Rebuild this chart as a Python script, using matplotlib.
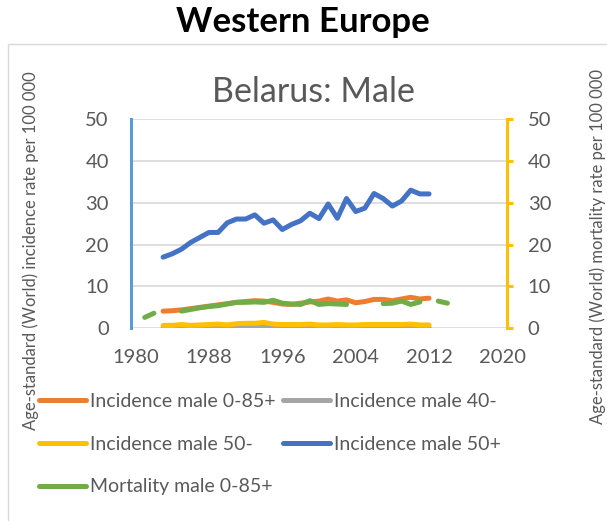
import numpy as np
import matplotlib
matplotlib.use('Agg')
import matplotlib.pyplot as plt
from matplotlib.patches import Rectangle

plt.rcParams['font.family'] = ['Lato', 'DejaVu Sans']

# Data
years = list(range(1980, 2016))

inc_all = {1983: 4.1, 1984: 4.2, 1985: 4.4, 1986: 4.7, 1987: 5.0, 1988: 5.3,
           1989: 5.6, 1990: 5.9, 1991: 6.2, 1992: 6.4, 1993: 6.6, 1994: 6.5,
           1995: 6.2, 1996: 5.8, 1997: 5.7, 1998: 6.0, 1999: 6.3, 2000: 6.5,
           2001: 7.0, 2002: 6.5, 2003: 6.8, 2004: 6.1, 2005: 6.4, 2006: 6.9,
           2007: 6.9, 2008: 6.6, 2009: 7.0, 2010: 7.4, 2011: 7.0, 2012: 7.2}
inc_40 = {1983: 0.1, 1984: 0.1, 1985: 0.2, 1986: 0.1, 1987: 0.2, 1988: 0.2,
          1989: 0.3, 1990: 0.2, 1991: 0.3, 1992: 0.3, 1993: 0.3, 1994: 0.4,
          1995: 0.2, 1996: 0.2, 1997: 0.2, 1998: 0.2, 1999: 0.3, 2000: 0.2,
          2001: 0.2, 2002: 0.2, 2003: 0.2, 2004: 0.2, 2005: 0.2, 2006: 0.2,
          2007: 0.2, 2008: 0.2, 2009: 0.2, 2010: 0.3, 2011: 0.2, 2012: 0.2}
inc_50m = {1983: 0.7, 1984: 0.7, 1985: 0.9, 1986: 0.7, 1987: 0.8, 1988: 0.9,
           1989: 1.0, 1990: 0.8, 1991: 1.1, 1992: 1.2, 1993: 1.2, 1994: 1.4,
           1995: 1.0, 1996: 0.9, 1997: 0.9, 1998: 0.9, 1999: 1.0, 2000: 0.8,
           2001: 0.8, 2002: 0.9, 2003: 0.8, 2004: 0.8, 2005: 0.9, 2006: 0.9,
           2007: 0.9, 2008: 0.9, 2009: 0.9, 2010: 1.0, 2011: 0.8, 2012: 0.8}
inc_50p = {1983: 17.0, 1984: 17.8, 1985: 18.9, 1986: 20.5, 1987: 21.7, 1988: 22.9,
           1989: 22.9, 1990: 25.2, 1991: 26.1, 1992: 26.1, 1993: 27.1, 1994: 25.1,
           1995: 25.9, 1996: 23.6, 1997: 24.8, 1998: 25.7, 1999: 27.5, 2000: 26.2,
           2001: 29.7, 2002: 26.3, 2003: 31.0, 2004: 27.9, 2005: 28.7, 2006: 32.2,
           2007: 31.0, 2008: 29.2, 2009: 30.4, 2010: 33.0, 2011: 32.1, 2012: 32.1}
mort_all = {1981: 2.6, 1982: 3.6, 1985: 4.1, 1986: 4.5, 1987: 4.9, 1988: 5.2,
            1989: 5.4, 1990: 5.8, 1991: 6.2, 1992: 6.2, 1993: 6.3, 1994: 6.2,
            1995: 6.7, 1996: 6.0, 1997: 5.8, 1998: 5.7, 1999: 6.6, 2000: 5.7,
            2001: 5.9, 2002: 5.8, 2003: 5.7, 2007: 5.9, 2008: 6.0, 2009: 6.5,
            2010: 5.7, 2011: 6.3, 2013: 6.5, 2014: 6.0}

xticks = [1980, 1988, 1996, 2004, 2012, 2020]


def series(d):
    # missing years become gaps in the line
    return np.array([d.get(y, np.nan) for y in years])


text_gray = '#595959'

fig = plt.figure(figsize=(6.07, 5.21), dpi=100)
fig.patches.append(Rectangle((8 / 607, -0.05), 1.0, 1 - 44 / 521 + 0.05,
                             transform=fig.transFigure, fill=False,
                             edgecolor='#D9D9D9', linewidth=1))

ax = fig.add_axes([131 / 607, 1 - 328.3 / 521, 376 / 607, 209.3 / 521])
ax2 = ax.twinx()

lw = 3.6
kw = dict(linewidth=lw, solid_capstyle='round', solid_joinstyle='round')
l1, = ax.plot(years, series(inc_all), color='#ED7D31', label='Incidence male 0-85+', **kw)
l2, = ax.plot(years, series(inc_40), color='#A5A5A5', label='Incidence male 40-', **kw)
l3, = ax.plot(years, series(inc_50m), color='#FFC000', label='Incidence male 50-', **kw)
l4, = ax.plot(years, series(inc_50p), color='#4472C4', label='Incidence male 50+', **kw)
l5, = ax2.plot(years, series(mort_all), color='#70AD47', label='Mortality male 0-85+', **kw)

for a in (ax, ax2):
    a.set_xlim(1979.5, 2020.5)
    a.set_ylim(0, 50)
    a.set_yticks(range(0, 51, 10))
    for s in a.spines.values():
        s.set_visible(False)

ax.set_xticks(xticks)
ax.tick_params(axis='x', length=0, labelsize=14.5, labelcolor=text_gray, pad=15)
ax.tick_params(axis='y', length=0, labelsize=14.5, labelcolor=text_gray, pad=16)
ax.yaxis.grid(True, color='#D9D9D9', linewidth=1.2)
ax.set_axisbelow(True)
ax.spines['left'].set_visible(True)
ax.spines['left'].set_color('#5B9BD5')
ax.spines['left'].set_linewidth(2.2)

ax2.spines['right'].set_visible(True)
ax2.spines['right'].set_color('#FFC000')
ax2.spines['right'].set_linewidth(2.2)
ax2.tick_params(axis='y', length=4, width=2.2, color='#FFC000', direction='out',
                labelsize=14.5, labelcolor=text_gray, pad=11)

fig.text(303 / 607, 1 - 22 / 521, 'Western Europe', ha='center', va='center',
         fontsize=25, fontweight='bold', color='black')
fig.text(313 / 607, 1 - 92 / 521, 'Belarus: Male', ha='center', va='center',
         fontsize=24.5, color=text_gray)
fig.text(31 / 607, 1 - 251 / 521, 'Age-standard (World) incidence rate per 100 000',
         rotation=90, ha='center', va='center', fontsize=12, color=text_gray)
fig.text(598 / 607, 1 - 246 / 521, 'Age-standard (World) mortality rate per 100 000',
         rotation=90, ha='center', va='center', fontsize=12, color=text_gray)

leg = fig.legend([l1, l3, l5, l2, l4],
                 [l1.get_label(), l3.get_label(), l5.get_label(), l2.get_label(), l4.get_label()],
                 ncol=2, loc='upper left', bbox_to_anchor=(39 / 607, 1 - 393 / 521),
                 frameon=False, fontsize=14, handlelength=2.42, handletextpad=0.2,
                 columnspacing=0.36, labelspacing=1.32, borderpad=0, borderaxespad=0)
for t in leg.get_texts():
    t.set_color(text_gray)

fig.savefig('out.png', dpi=100)
